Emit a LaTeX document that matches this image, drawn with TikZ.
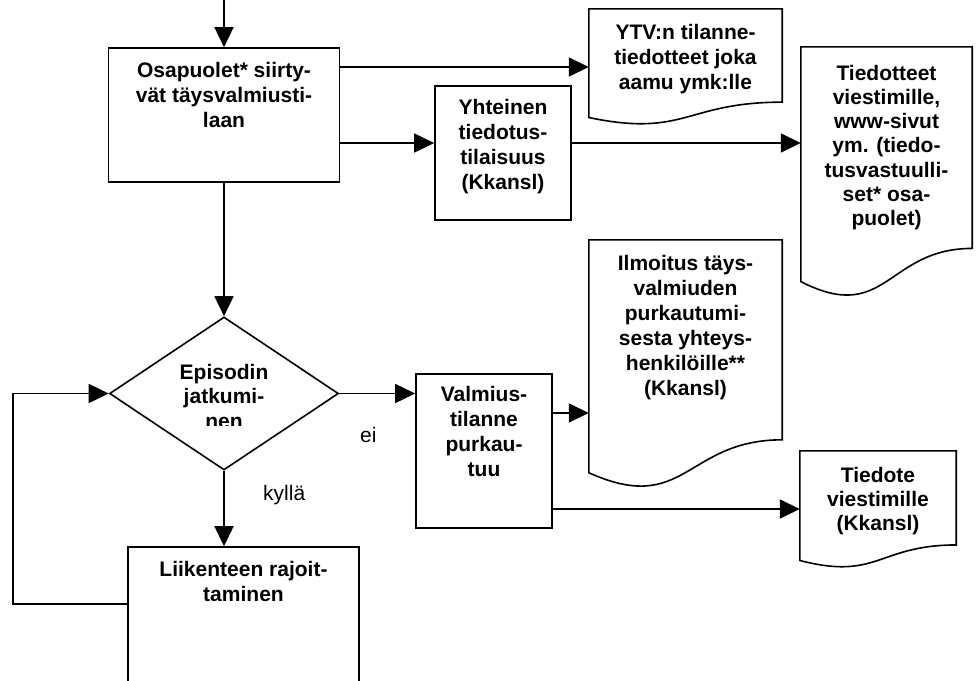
\documentclass[tikz,border=0pt]{standalone}
\usepackage{fontspec}
\setmainfont{Liberation Sans}
\usetikzlibrary{arrows.meta,shapes.geometric,calc}
\newcommand{\mystrut}{\rule{0pt}{15.5pt}}
\newcommand{\docpath}[1]{\draw[ln] (#1.north west) -- (#1.north east) -- ($(#1.north east)!0.802!(#1.south east)$) .. controls ($(#1.north)!0.802!(#1.south)$) and ($(#1.north)!1.108!(#1.south)$) .. ($(#1.north west)!0.934!(#1.south west)$) -- cycle;}
\begin{document}
\begin{tikzpicture}[x=1pt,y=-1pt,
  ln/.style={line width=1.6pt, line join=miter},
  box/.style={draw, line width=1.6pt, rectangle, inner sep=0pt},
  doc/.style={rectangle, inner sep=0pt},
  arr/.style={ln, -{Triangle[length=20pt,width=19pt]}},
  lbl/.style={font=\bfseries\fontsize{21}{25}\selectfont, align=center, inner sep=0pt, anchor=north},
  plain/.style={font=\fontsize{21}{25}\selectfont, inner sep=0pt, anchor=base west}]
\useasboundingbox (0,0) rectangle (977,680);
\fill[white] (0,0) rectangle (977,680);
\clip (0,0) rectangle (977,680);
% nodes
\node[box, minimum width=231pt, minimum height=134pt] (osa) at (224,115) {};
\node[box, minimum width=136pt, minimum height=134pt] (yht) at (503,153) {};
\node[doc, minimum width=193pt, minimum height=116pt] (ytv) at (685.5,67) {};
\node[doc, minimum width=171pt, minimum height=251pt] (tdt) at (886.5,172.5) {};
\node[diamond, draw, line width=1.6pt, inner sep=0pt, minimum width=229pt, minimum height=153pt] (dia) at (224,393.5) {};
\node[box, minimum width=136pt, minimum height=154pt] (val) at (484,451) {};
\node[doc, minimum width=193pt, minimum height=249pt] (ilm) at (685.5,364.5) {};
\node[doc, minimum width=156pt, minimum height=117pt] (tie) at (878,509.5) {};
\node[box, minimum width=231pt, minimum height=160pt] (lii) at (243.5,627) {};
\docpath{ytv}
\docpath{tdt}
\docpath{ilm}
\docpath{tie}
% texts
\node[lbl] (osat) at ([yshift=-14.5pt]osa.north) {\mystrut Osapuolet* siirty-\\vät täysvalmiusti-\\laan};
\node[lbl] (ytvt) at ([yshift=-14.5pt]ytv.north) {\mystrut YTV:n tilanne-\\tiedotteet joka\\aamu ymk:lle};
\node[lbl] (yhtt) at ([yshift=-13.5pt]yht.north) {\mystrut Yhteinen\\tiedotus-\\tilaisuus\\(Kkansl)};
\node[lbl, font=\bfseries\fontsize{21}{24.3}\selectfont] (tdtt) at ([yshift=-17.5pt]tdt.north) {\mystrut Tiedotteet\\viestimille,\\www-sivut\\ym. (tiedo-\\tusvastuulli-\\set* osa-\\puolet)};
\node[lbl] (valt) at ([yshift=-12.5pt]val.north) {\mystrut Valmius-\\tilanne\\purkau-\\tuu};
\node[lbl] (ilmt) at ([yshift=-14.5pt]ilm.north) {\mystrut Ilmoitus täys-\\valmiuden\\purkautumi-\\sesta yhteys-\\henkilöille**\\(Kkansl)};
\node[lbl, font=\bfseries\fontsize{21}{24}\selectfont] (tiet) at ([yshift=-15.5pt]tie.north) {\mystrut Tiedote\\viestimille\\(Kkansl)};
\node[lbl] (liit) at ([yshift=-14.5pt]lii.north) {\mystrut Liikenteen rajoit-\\taminen};
\begin{scope}
\clip (0,0) rectangle (977,425);
\node[lbl, font=\bfseries\fontsize{21}{24.5}\selectfont] (diat) at ([yshift=-47.5pt]dia.north) {\mystrut Episodin\\jatkumi-\\nen};
\end{scope}
\node[plain] (ei) at (360,442) {ei};
\node[plain] (kylla) at (263,500) {kyllä};
% connectors
\coordinate (in) at (224,0);
\coordinate (r2) at (0,143);
\coordinate (r3) at (0,413);
\coordinate (r4) at (0,509);
\coordinate (fb) at (13,604);
\draw[arr] (in) -- (osa.north);
\draw[arr] (osa.east |- ytv.west) -- (ytv.west);
\draw[arr] (osa.east |- r2) -- (yht.west |- r2);
\draw[arr] (yht.east |- r2) -- (tdt.west |- r2);
\draw[arr] (osa.south) -- (dia.north);
\draw[arr] (dia.south) -- (dia.south |- lii.north);
\draw[arr] (lii.west |- fb) -- (fb) |- (dia.west);
\draw[arr] (dia.east) -- (val.west |- dia.east);
\draw[arr] (val.east |- r3) -- (ilm.west |- r3);
\draw[arr] (val.east |- r4) -- (tie.west |- r4);
\end{tikzpicture}
\end{document}
